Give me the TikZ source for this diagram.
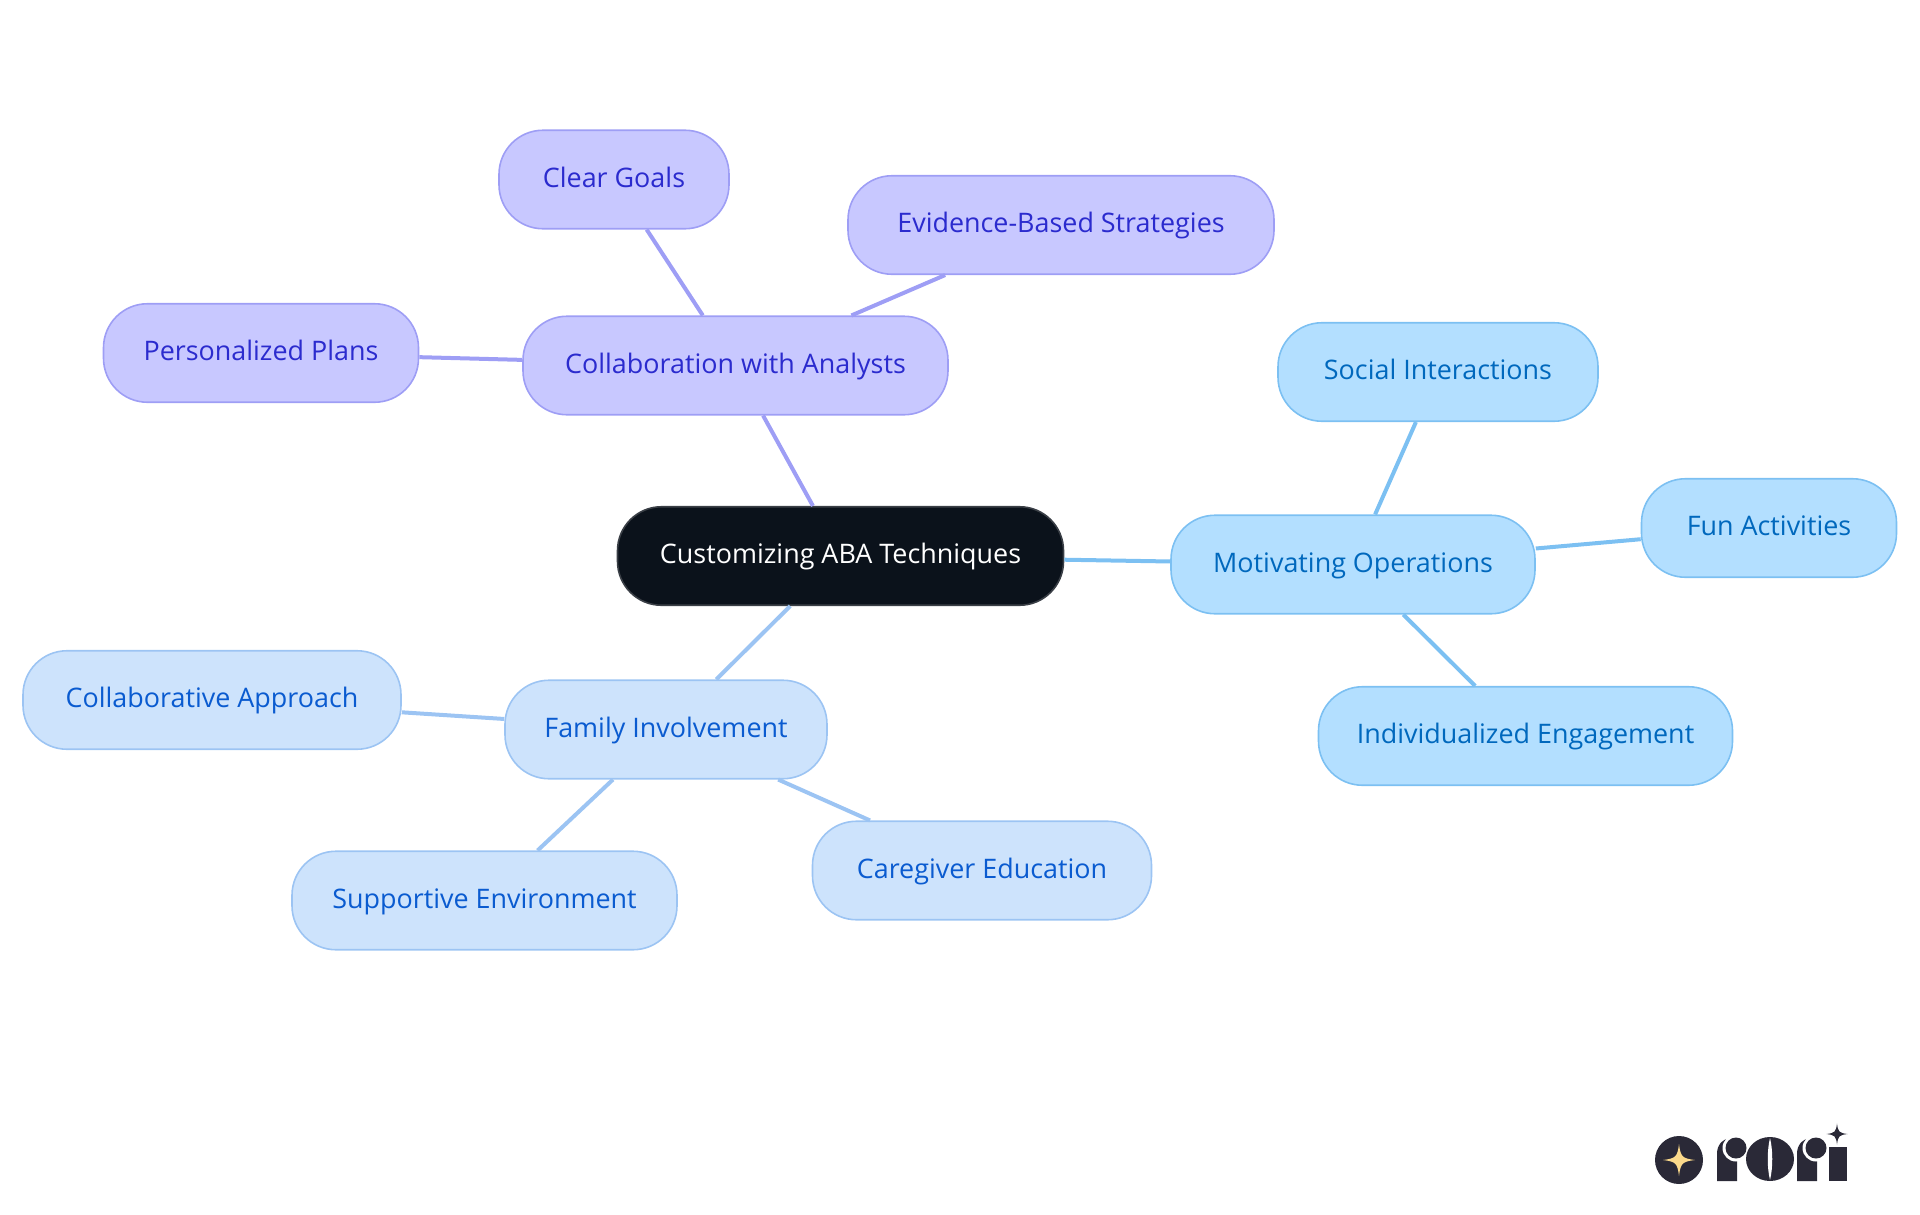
\documentclass[tikz,border=0pt]{standalone}
\usepackage{fontspec}
\setmainfont{Open Sans}
\usetikzlibrary{positioning}
\definecolor{rootfill}{HTML}{0B121B}
\definecolor{rootline}{HTML}{3A3F46}
\definecolor{purplefill}{HTML}{C8C8FF}
\definecolor{purpleline}{HTML}{9E9EF5}
\definecolor{purpletext}{HTML}{2B2BCE}
\definecolor{skyfill}{HTML}{B3DFFF}
\definecolor{skyline}{HTML}{7CC0F2}
\definecolor{skytext}{HTML}{0068BD}
\definecolor{bluefill}{HTML}{CDE3FC}
\definecolor{blueline}{HTML}{9CC4F3}
\definecolor{bluetext}{HTML}{0A5BD0}
\definecolor{logodark}{HTML}{2A2937}
\definecolor{logostar}{HTML}{FBD98B}
\tikzset{
  mapnode/.style={draw, line width=1.6pt, rounded corners=44pt, inner sep=0pt,
    minimum height=98.5pt, text height=21pt, text depth=6pt,
    font=\fontsize{26.9}{32}\selectfont},
  rootnode/.style={mapnode, fill=rootfill, draw=rootline, text=white},
  purplenode/.style={mapnode, fill=purplefill, draw=purpleline, text=purpletext},
  skynode/.style={mapnode, fill=skyfill, draw=skyline, text=skytext},
  bluenode/.style={mapnode, fill=bluefill, draw=blueline, text=bluetext},
  sparkle/.pic={\fill (-1,0) .. controls (-.2,-.1) and (-.1,-.2) .. (0,-1)
    .. controls (.1,-.2) and (.2,-.1) .. (1,0)
    .. controls (.2,.1) and (.1,.2) .. (0,1)
    .. controls (-.1,.2) and (-.2,.1) .. (-1,0) -- cycle;}
}
\begin{document}
\begin{tikzpicture}[x=1pt, y=-1pt]
\useasboundingbox (0,0) rectangle (1920,1215);
\node[rootnode,   minimum width=446pt] (root)    at (840.5,556)   {Customizing ABA Techniques};
\node[purplenode, minimum width=425pt] (analyst) at (735.5,365.5) {Collaboration with Analysts};
\node[purplenode, minimum width=230pt] (goals)   at (614,179.5)   {Clear Goals};
\node[purplenode, minimum width=426pt] (evid)    at (1061,225)    {Evidence-Based Strategies};
\node[purplenode, minimum width=315pt] (plans)   at (261,353)     {Personalized Plans};
\node[skynode,    minimum width=364pt] (motiv)   at (1353,564.5)  {Motivating Operations};
\node[skynode,    minimum width=320pt] (social)  at (1438,372)    {Social Interactions};
\node[skynode,    minimum width=255pt] (fun)     at (1769,528)    {Fun Activities};
\node[skynode,    minimum width=414pt] (indiv)   at (1525.5,736)  {Individualized Engagement};
\node[bluenode,   minimum width=322pt] (family)  at (666,729.5)   {Family Involvement};
\node[bluenode,   minimum width=378pt] (approach) at (212,700)    {Collaborative Approach};
\node[bluenode,   minimum width=385pt] (support) at (484.5,900.5) {Supportive Environment};
\node[bluenode,   minimum width=339pt] (educ)    at (982,870.5)   {Caregiver Education};
\path[line width=4pt, draw=purpleline]
    (root)    edge (analyst)
    (analyst) edge (goals)
    (analyst) edge (evid)
    (analyst) edge (plans)
;
\path[line width=4pt, draw=skyline]
    (root)  edge (motiv)
    (motiv) edge (social)
    (motiv) edge (fun)
    (motiv) edge (indiv)
;
\path[line width=4pt, draw=blueline]
    (root)   edge (family)
    (family) edge (approach)
    (family) edge (support)
    (family) edge (educ)
;
% logo
\fill[logodark] (1679,1160) circle (24);
\pic[logostar, scale=16] at (1679,1160) {sparkle};
\foreach \stemx in {1717,1797} {
  \fill[logodark] (\stemx,1181) -- (\stemx,1154) .. controls (\stemx,1145) and (\stemx+5,1139) .. (\stemx+14,1138)
    -- (\stemx+20,1138) -- (\stemx+20,1181) -- cycle;
  \fill[white] (\stemx+19,1148) circle (13.5);
  \fill[logodark] (\stemx+19,1148) circle (10.5);
}
\fill[logodark] (1770,1159) ellipse (24 and 22);
\fill[white] (1770,1138) .. controls (1767,1150) and (1767,1168) .. (1770,1180)
    .. controls (1773,1168) and (1773,1150) .. (1770,1138) -- cycle;
\fill[logodark] (1829,1147) -- (1847,1147) -- (1847,1181) -- (1829,1181) -- cycle;
\fill[white] (1837,1134) circle (13);
\pic[logodark, scale=10.5] at (1837,1134) {sparkle};
\end{tikzpicture}
\end{document}
